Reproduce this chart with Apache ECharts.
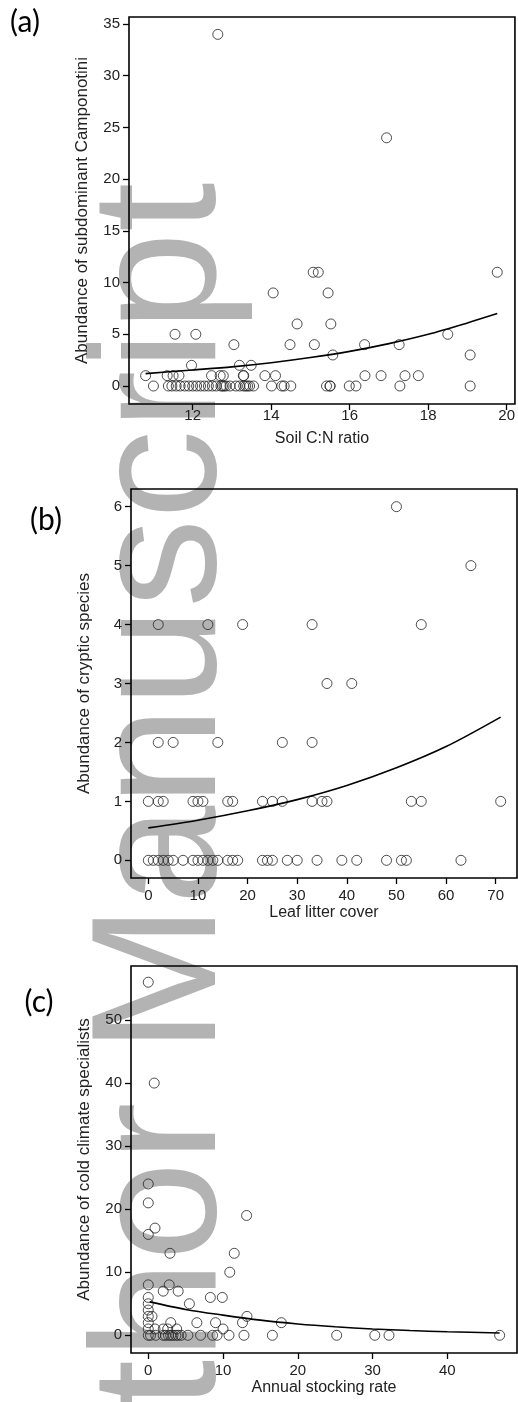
<!DOCTYPE html>
<html>
<head>
<meta charset="utf-8">
<script src="https://cdn.jsdelivr.net/npm/echarts@6/dist/echarts.min.js"></script>
<style>
html,body{margin:0;padding:0;background:#fff;}
#chart{width:518px;height:1402px;}
</style>
</head>
<body>
<div id="chart"></div>
<script>
// ---------- Panel (a): Soil C:N ratio vs subdominant Camponotini ----------
const aX = [12.64, 16.94, 15.07, 15.2, 19.76, 14.05, 15.45, 14.66, 15.52, 11.55, 12.08, 18.5,
  13.05, 14.48, 15.1, 16.38, 17.26, 15.57, 19.07, 11.97, 13.19, 13.49,
  10.8, 11.35, 11.5, 11.65, 12.48, 12.7, 12.78, 13.29, 13.3, 13.84, 14.11, 16.39, 16.8, 17.41, 17.75,
  11.0, 11.38, 11.47, 11.58, 11.68, 11.8, 11.9, 12.0, 12.1, 12.2, 12.3, 12.4, 12.5, 12.6, 12.72, 12.76, 12.8, 12.85, 12.95,
  13.1, 13.2, 13.3, 13.35, 13.4, 13.45, 13.55, 14.01, 14.27, 14.33, 14.5, 15.41, 15.5, 15.5, 15.99, 16.16, 17.28, 19.07];
const aY = [34, 24, 11, 11, 11, 9, 9, 6, 6, 5, 5, 5,
  4, 4, 4, 4, 4, 3, 3, 2, 2, 2,
  1, 1, 1, 1, 1, 1, 1, 1, 1, 1, 1, 1, 1, 1, 1,
  0, 0, 0, 0, 0, 0, 0, 0, 0, 0, 0, 0, 0, 0, 0, 0, 0, 0, 0,
  0, 0, 0, 0, 0, 0, 0, 0, 0, 0, 0, 0, 0, 0, 0, 0, 0, 0];
const aFitX = [10.8, 12, 13, 14, 15, 16, 17, 18, 19, 19.76];
const aFitY = [1.2, 1.55, 1.85, 2.25, 2.75, 3.35, 4.1, 5.0, 6.1, 7.0];
const aXTicks = [12, 14, 16, 18, 20];
const aYTicks = [0, 5, 10, 15, 20, 25, 30, 35];

// ---------- Panel (b): Leaf litter cover vs cryptic species ----------
const bX = [50, 65, 2, 12, 19, 33, 55, 36, 41, 2, 5, 14, 27, 33,
  0, 2, 3, 9, 10, 11, 16, 17, 23, 25, 27, 33, 35, 36, 53, 55, 71,
  0, 1, 2, 3, 4, 5, 7, 9, 10, 11, 12, 13, 14, 16, 17, 18, 23, 24, 25, 28, 30, 34, 39, 42, 48, 51, 52, 63];
const bY = [6, 5, 4, 4, 4, 4, 4, 3, 3, 2, 2, 2, 2, 2,
  1, 1, 1, 1, 1, 1, 1, 1, 1, 1, 1, 1, 1, 1, 1, 1, 1,
  0, 0, 0, 0, 0, 0, 0, 0, 0, 0, 0, 0, 0, 0, 0, 0, 0, 0, 0, 0, 0, 0, 0, 0, 0, 0, 0, 0];
const bFitX = [0, 10, 20, 30, 40, 50, 60, 71];
const bFitY = [0.55, 0.68, 0.84, 1.03, 1.27, 1.57, 1.93, 2.43];
const bXTicks = [0, 10, 20, 30, 40, 50, 60, 70];
const bYTicks = [0, 1, 2, 3, 4, 5, 6];

// ---------- Panel (c): Annual stocking rate vs cold climate specialists ----------
const cX = [0, 0.8, 0, 0, 0.9, 0, 13.15, 2.9, 11.5, 10.9, 0, 2.8, 2.0, 4.0, 0, 8.3, 9.9, 0, 5.5, 0,
  0, 0.5, 13.2, 0, 3.0, 6.5, 9.0, 12.6, 17.8, 0, 0.9, 2.0, 2.6, 3.8, 10.0,
  0, 0.3, 1.0, 2.0, 2.3, 2.7, 3.0, 3.3, 3.7, 4.0, 4.4, 5.3, 7.0, 8.6, 9.2, 10.8, 12.8, 16.6, 25.2, 30.3, 32.2, 47.0];
const cY = [56, 40, 24, 21, 17, 16, 19, 13, 13, 10, 8, 8, 7, 7, 6, 6, 6, 5, 5, 4,
  3, 3, 3, 2, 2, 2, 2, 2, 2, 1, 1, 1, 1, 1, 1,
  0, 0, 0, 0, 0, 0, 0, 0, 0, 0, 0, 0, 0, 0, 0, 0, 0, 0, 0, 0, 0, 0];
const cFitX = [0.2, 5, 10, 15, 20, 25, 30, 35, 40, 47];
const cFitY = [5.3, 4.1, 3.2, 2.4, 1.8, 1.35, 1.0, 0.75, 0.56, 0.37];
const cXTicks = [0, 10, 20, 30, 40];
const cYTicks = [0, 10, 20, 30, 40, 50];

const zip = (xs, ys) => xs.map((x, i) => [x, ys[i]]);
const FONT = '"Liberation Sans", Arial, sans-serif';
const TXT = '#222';

function xAxisCfg(idx, min, max, ticks, name, margin) {
  return {
    type: 'value', gridIndex: idx, min: min, max: max, position: 'bottom',
    name: name, nameLocation: 'middle', nameGap: 27,
    nameTextStyle: {fontFamily: FONT, fontSize: 16, color: TXT},
    axisLine: {show: false, onZero: false},
    splitLine: {show: false},
    axisTick: {show: true, inside: false, customValues: ticks, length: 6, lineStyle: {color: '#000', width: 1.3}},
    axisLabel: {customValues: ticks, margin: margin, fontFamily: FONT, fontSize: 15, color: TXT}
  };
}
function yAxisCfg(idx, min, max, ticks, name) {
  return {
    type: 'value', gridIndex: idx, min: min, max: max, position: 'left',
    name: name, nameLocation: 'middle', nameGap: 38, nameRotate: 90,
    nameTextStyle: {fontFamily: FONT, fontSize: 17, color: TXT},
    axisLine: {show: false, onZero: false},
    splitLine: {show: false},
    axisTick: {show: true, inside: false, customValues: ticks, length: 6, lineStyle: {color: '#000', width: 1.3}},
    axisLabel: {customValues: ticks, margin: 9, fontFamily: FONT, fontSize: 15, color: TXT}
  };
}
function scatter(idx, data) {
  return {
    type: 'scatter', xAxisIndex: idx, yAxisIndex: idx, data: data,
    symbol: 'circle', symbolSize: 10, z: 3,
    itemStyle: {color: 'rgba(0,0,0,0)', borderColor: '#222', borderWidth: 1},
    emphasis: {disabled: true}
  };
}
function fit(idx, data) {
  return {
    type: 'line', xAxisIndex: idx, yAxisIndex: idx, data: data,
    showSymbol: false, smooth: 0.3, z: 4,
    lineStyle: {color: '#000', width: 1.6},
    emphasis: {disabled: true}
  };
}
const gridStyle = {show: true, borderColor: '#000', borderWidth: 1.6, backgroundColor: 'rgba(0,0,0,0)'};

const chart = echarts.init(document.getElementById('chart'), null, {renderer: 'canvas'});
chart.setOption({
  animation: false,
  backgroundColor: '#fff',
  grid: [
    Object.assign({left: 129, top: 17, width: 386, height: 387}, gridStyle),
    Object.assign({left: 131, top: 489, width: 386, height: 389}, gridStyle),
    Object.assign({left: 131, top: 966, width: 386, height: 387}, gridStyle)
  ],
  xAxis: [
    xAxisCfg(0, 10.377, 20.211, aXTicks, 'Soil C:N ratio', 4),
    xAxisCfg(1, -3.49, 74.29, bXTicks, 'Leaf litter cover', 10),
    xAxisCfg(2, -2.31, 49.32, cXTicks, 'Annual stocking rate', 10)
  ],
  yAxis: [
    yAxisCfg(0, -1.74, 35.68, aYTicks, 'Abundance of subdominant Camponotini'),
    yAxisCfg(1, -0.30, 6.30, bYTicks, 'Abundance of cryptic species'),
    yAxisCfg(2, -2.81, 58.57, cYTicks, 'Abundance of cold climate specialists')
  ],
  series: [
    scatter(0, zip(aX, aY)), fit(0, zip(aFitX, aFitY)),
    scatter(1, zip(bX, bY)), fit(1, zip(bFitX, bFitY)),
    scatter(2, zip(cX, cY)), fit(2, zip(cFitX, cFitY))
  ],
  graphic: {
    elements: [
      {type: 'text', x: 166, y: 1627, rotation: Math.PI / 2, z: -10, silent: true,
        style: {text: 'Author Manuscript', fontFamily: FONT, fontSize: 178, fill: '#b3b3b3', align: 'left', verticalAlign: 'middle'}},
      {type: 'text', x: 25, y: 22, z: 10,
        style: {text: '(a)', fontFamily: 'Lato, "Open Sans", sans-serif', fontSize: 30, fill: '#000', align: 'center', verticalAlign: 'middle'}},
      {type: 'text', x: 46, y: 520, z: 10,
        style: {text: '(b)', fontFamily: 'Lato, "Open Sans", sans-serif', fontSize: 30, fill: '#000', align: 'center', verticalAlign: 'middle'}},
      {type: 'text', x: 39, y: 1002, z: 10,
        style: {text: '(c)', fontFamily: 'Lato, "Open Sans", sans-serif', fontSize: 30, fill: '#000', align: 'center', verticalAlign: 'middle'}}
    ]
  }
});
</script>
</body>
</html>
